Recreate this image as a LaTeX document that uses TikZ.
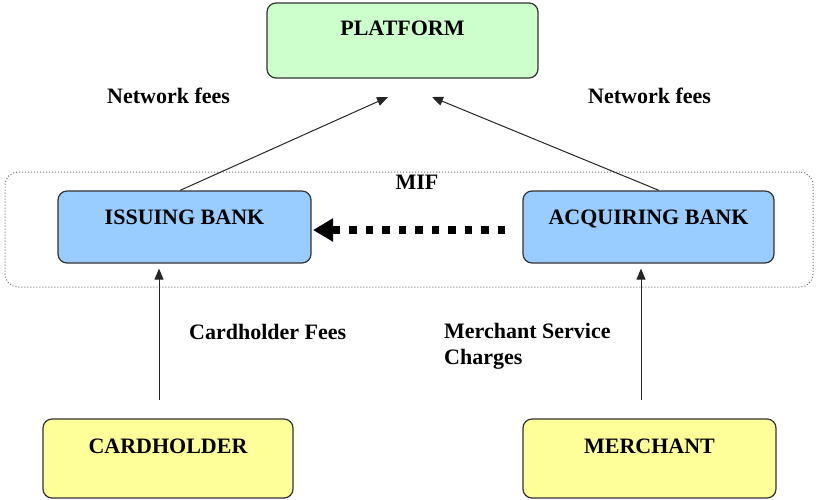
\documentclass[tikz,border=0pt]{standalone}
\usepackage{fontspec}
\setmainfont{Liberation Serif}
\usetikzlibrary{arrows.meta}
\definecolor{pgreen}{HTML}{CCFFCC}
\definecolor{pblue}{HTML}{99CCFF}
\definecolor{pyellow}{HTML}{FFFF99}
\definecolor{edge}{HTML}{333333}
\begin{document}
\begin{tikzpicture}[x=1pt,y=-1pt,
  every node/.style={font=\fontsize{22}{26}\selectfont\bfseries},
  boxbase/.style={draw=edge, line width=1.2pt, rounded corners=9pt, inner xsep=0pt, inner ysep=0pt},
  platbox/.style={boxbase, fill=pgreen, minimum width=271pt, text height=32pt, text depth=43pt},
  bankbox/.style={boxbase, fill=pblue, text height=33pt, text depth=39pt},
  userbox/.style={boxbase, fill=pyellow, text height=34pt, text depth=45pt},
  lbl/.style={inner sep=0pt, anchor=west},
  arr/.style={-{Triangle[length=11pt,width=9pt]}, line width=1pt, draw=black!85}
]
\useasboundingbox (0,0) rectangle (817,499);
% MIF container
\node[draw=black!55, dotted, line width=1pt, rounded corners=13pt, minimum width=808pt, minimum height=115pt, inner sep=0pt] (mif) at (409,229.5) {};
\node[inner sep=0pt] (miflbl) at (417,182) {MIF};
% boxes
\node[platbox] (plat) at (402.5,40.5) {PLATFORM};
\node[bankbox, minimum width=253pt] (iss) at (184.5,227) {ISSUING BANK};
\node[bankbox, minimum width=251pt] (acq) at (648.5,227) {ACQUIRING BANK};
\node[userbox, minimum width=250pt] (card) at (168,458.5) {CARDHOLDER};
\node[userbox, minimum width=253pt] (merch) at (649.5,458.5) {MERCHANT};
% labels
\node[lbl] (nf1) at (107,96) {Network fees};
\node[lbl] (nf2) at (588,96) {Network fees};
\node[lbl] (chf) at (189,332) {Cardholder Fees};
\node[lbl, align=left, anchor=north west] (msc) at (444,323) {Merchant Service\\Charges};
% coordinates
\coordinate (t1) at (388,97);
\coordinate (t2) at (432,97);
\coordinate (dstart) at (505,230);
\coordinate (dend) at (313,230);
\coordinate (c1) at (159,400);
\coordinate (c2) at (641,400);
% arrows
\draw[arr] (iss.north -| 180,0) -- (t1);
\draw[arr] (acq.north -| 659,0) -- (t2);
\draw[arr, shorten >=5pt] (c1) -- (c1 |- iss.south);
\draw[arr, shorten >=5pt] (c2) -- (c2 |- acq.south);
\draw[line width=7.5pt, dash pattern=on 7.5pt off 9pt, -{Triangle[length=20pt,width=22pt]}] (dstart) -- (dend);
\end{tikzpicture}
\end{document}
